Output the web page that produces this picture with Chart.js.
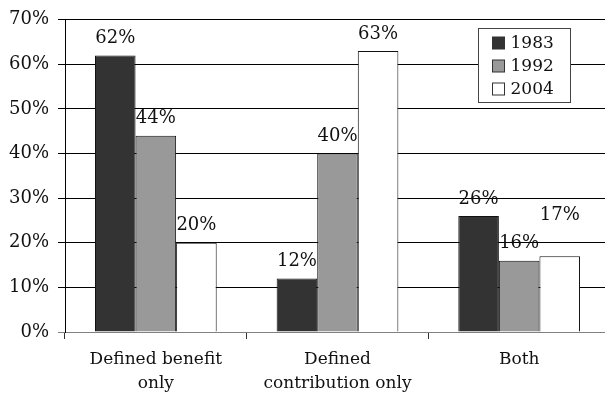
<!DOCTYPE html>
<html>
<head>
<meta charset="utf-8">
<script src="https://cdn.jsdelivr.net/npm/chart.js@4"></script>
<style>
  html, body { margin: 0; padding: 0; background: #fff; overflow: hidden; }
  #wrap { width: 610px; height: 396px; }
</style>
</head>
<body>
<div id="wrap"><canvas id="c" width="610" height="396"></canvas></div>
<script>
// Plan type categories (multi-line axis labels)
const categories = [["Defined benefit", "only"], ["Defined", "contribution only"], ["Both"]];
const years = ["1983", "1992", "2004"];
// Share of workers with each plan type, in percent
const values1983 = [62, 12, 26];
const values1992 = [44, 40, 16];
const values2004 = [20, 63, 17];
const yTicks = [0, 10, 20, 30, 40, 50, 60, 70];

const FONT = "'DejaVu Serif', 'Liberation Serif', serif";
const fills = ["#333333", "#999999", "#ffffff"];
const series = [values1983, values1992, values2004];

// Value labels above each bar
const valueLabels = {
  id: "valueLabels",
  afterDatasetsDraw(chart, args, opts) {
    const ctx = chart.ctx;
    ctx.save();
    ctx.font = "18px " + FONT;
    ctx.fillStyle = "#111";
    ctx.textAlign = "center";
    ctx.textBaseline = "middle";
    chart.data.datasets.forEach((ds, di) => {
      const meta = chart.getDatasetMeta(di);
      meta.data.forEach((bar, i) => {
        const extra = (opts.lift[i] && opts.lift[i][di]) || 0;
        ctx.fillText(ds.data[i] + "%", bar.x, bar.y - 17 - extra);
      });
    });
    ctx.restore();
  }
};

// Boxed legend in the upper right of the plot
const boxLegend = {
  id: "boxLegend",
  afterDraw(chart) {
    const ctx = chart.ctx;
    const x = 478.5, y = 28.5, w = 92, h = 74;
    ctx.save();
    ctx.fillStyle = "#fff";
    ctx.fillRect(x, y, w, h);
    ctx.strokeStyle = "#444";
    ctx.lineWidth = 1;
    ctx.strokeRect(x, y, w, h);
    ctx.font = "17px " + FONT;
    ctx.textBaseline = "middle";
    ctx.textAlign = "left";
    chart.data.datasets.forEach((ds, i) => {
      const ry = y + 8.5 + i * 23;
      ctx.fillStyle = ds.backgroundColor;
      ctx.fillRect(x + 14, ry, 12, 12);
      ctx.strokeStyle = "#333";
      ctx.strokeRect(x + 14, ry, 12, 12);
      ctx.fillStyle = "#111";
      ctx.fillText(ds.label, x + 32, ry + 7);
    });
    ctx.restore();
  }
};

new Chart(document.getElementById("c"), {
  type: "bar",
  data: {
    labels: categories,
    datasets: years.map((yr, i) => ({
      label: yr,
      data: series[i],
      backgroundColor: fills[i],
      borderColor: "#111",
      borderWidth: 1,
      categoryPercentage: 0.67,
      barPercentage: 1.0
    }))
  },
  options: {
    responsive: false,
    animation: false,
    devicePixelRatio: 1,
    layout: { padding: { top: 19, left: 0, right: 0, bottom: 0 } },
    plugins: {
      legend: { display: false },
      tooltip: { enabled: false },
      valueLabels: { lift: [[0, 0, 0], [0, 0, 0], [0, 0, 24]] }
    },
    scales: {
      x: {
        offset: true,
        grid: {
          offset: true,
          drawOnChartArea: false,
          drawTicks: true,
          tickLength: 7,
          color: "#333"
        },
        border: { display: true, color: "#808080", width: 1 },
        ticks: {
          color: "#111",
          font: { family: FONT, size: 17, lineHeight: 1.45 },
          padding: 8,
          maxRotation: 0,
          autoSkip: false
        },
        afterFit(scale) { scale.height = 64; }
      },
      y: {
        min: 0,
        max: 70,
        afterBuildTicks(scale) { scale.ticks = yTicks.map(v => ({ value: v })); },
        grid: {
          color: ctx => (ctx.tick && ctx.tick.value === 0 ? "#808080" : "#000"),
          lineWidth: 1,
          tickLength: 7
        },
        border: { display: true, color: "#000", width: 1 },
        ticks: {
          color: "#111",
          font: { family: FONT, size: 18 },
          padding: 9,
          callback: v => v + "%"
        },
        afterFit(scale) { scale.width = 65; }
      }
    }
  },
  plugins: [valueLabels, boxLegend]
});
</script>
</body>
</html>
